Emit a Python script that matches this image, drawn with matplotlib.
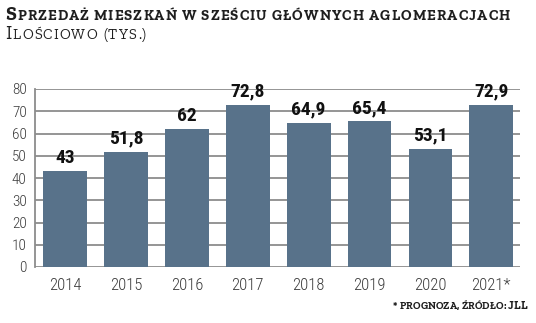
import matplotlib
matplotlib.use("Agg")
import matplotlib.pyplot as plt
from matplotlib.font_manager import FontProperties

# data
years = ["2014", "2015", "2016", "2017", "2018", "2019", "2020", "2021*"]
sales = [43, 51.8, 62, 72.8, 64.9, 65.4, 53.1, 72.9]
value_labels = ["43", "51,8", "62", "72,8", "64,9", "65,4", "53,1", "72,9"]
y_ticks = [0, 10, 20, 30, 40, 50, 60, 70, 80]

title = "Sprzedaż mieszkań w sześciu głównych aglomeracjach"
subtitle = "Ilościowo (tys.)"
footnote = "* prognoza, źródło: JLL"

BAR = "#58728a"
GRID = "#8c8c8c"
NARROW = ["Roboto Condensed", "DejaVu Sans"]
SLAB = ["Zilla Slab", "DejaVu Serif"]

fig = plt.figure(figsize=(5.36, 3.23), dpi=100)
ax = fig.add_axes([35 / 536, 56 / 323, 485 / 536, 178 / 323])

x = list(range(len(years)))
ax.bar(x, sales, width=0.72, color=BAR, zorder=2)
for xi, v, lab in zip(x, sales, value_labels):
    ax.annotate(lab, (xi, v), xytext=(0, 3), textcoords="offset points",
                ha="center", va="bottom", fontsize=14, fontweight="bold",
                family=NARROW, color="#111111", zorder=3)

ax.set_xlim(-0.493, 7.47)
ax.set_ylim(0, 80)
ax.set_yticks(y_ticks)
ax.yaxis.grid(True, color=GRID, linewidth=1.3, zorder=0)
ax.set_axisbelow(True)
for side in ["top", "right", "bottom"]:
    ax.spines[side].set_visible(False)
ax.spines["left"].set_color(GRID)
ax.spines["left"].set_linewidth(1.3)
ax.tick_params(axis="y", length=0, pad=6, labelsize=11, labelcolor="#3a3a3a")
ax.tick_params(axis="x", length=0, pad=8, labelsize=12, labelcolor="#3a3a3a")
ax.set_xticks(x)
ax.set_xticklabels(years)
for lab in ax.get_xticklabels() + ax.get_yticklabels():
    lab.set_family(NARROW)
    lab.set_fontweight("light")

renderer = fig.canvas.get_renderer()


def _width(s, prop):
    # measure with guard letters so spaces count
    w1 = renderer.get_text_width_height_descent("X" + s + "X", prop, ismath=False)[0]
    w0 = renderer.get_text_width_height_descent("XX", prop, ismath=False)[0]
    return w1 - w0


def small_caps(s, x0, x1, y0, big, small, weight, color="#1e1e1e"):
    """Fake small caps, spread letter by letter between pixels x0 and x1."""
    chars = []
    for ch in s:
        up = ch.isupper()
        prop = FontProperties(family=SLAB, weight=weight, size=big if up else small)
        c = ch if up else ch.upper()
        chars.append((c, prop, _width(c, prop)))
    natural = sum(w for _, _, w in chars)
    track = (x1 - x0 - natural) / max(len(chars) - 1, 1)
    cx = x0
    for c, prop, w in chars:
        fig.text(cx / 536, 1 - y0 / 323, c, fontproperties=prop, color=color,
                 ha="left", va="baseline")
        cx += w + track


small_caps(title, 5, 510, 20.5, 14, 10.6, "bold")
small_caps(subtitle, 5, 146, 39, 14, 10.6, "normal")
small_caps(footnote, 393, 527, 309, 8.5, 7.6, "bold")

fig.savefig("out.png", dpi=100)
